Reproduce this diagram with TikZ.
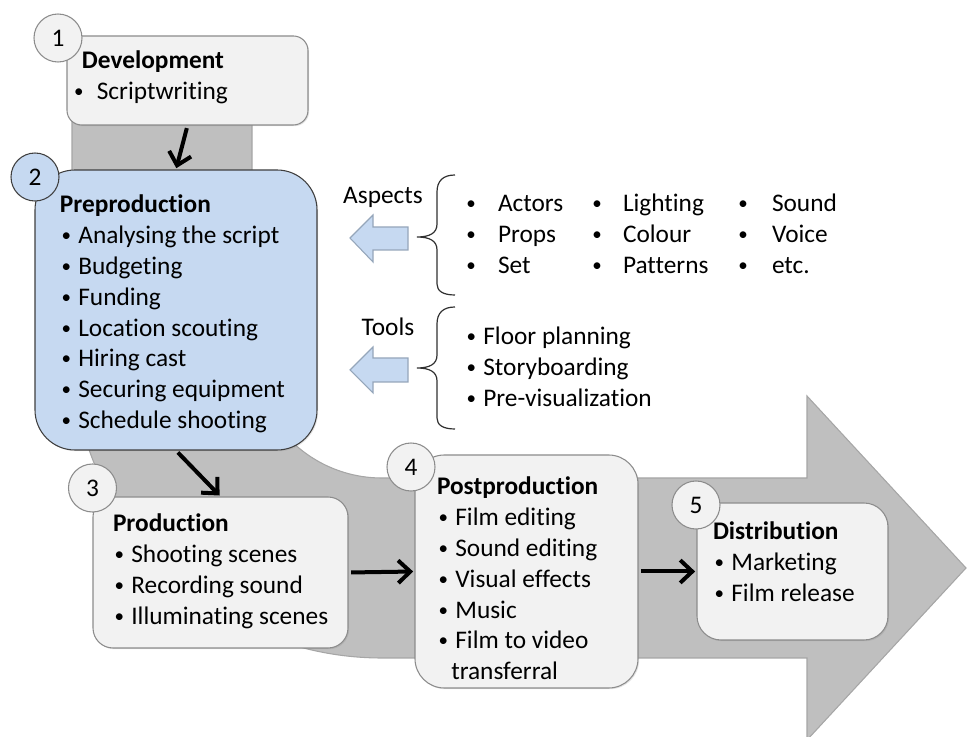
\documentclass[tikz,border=0pt]{standalone}
\usepackage{fontspec}
\setmainfont{Carlito}[Ligatures=NoCommon]
\usetikzlibrary{arrows.meta,fit,shadows}

\definecolor{bandfill}{HTML}{BFBFBF}
\definecolor{bandline}{HTML}{A6A6A6}
\definecolor{boxfill}{HTML}{F2F2F2}
\definecolor{boxline}{HTML}{8C8C8C}
\definecolor{prefill}{HTML}{C6D9F1}
\definecolor{preline}{HTML}{3F3F3F}
\definecolor{hintline}{HTML}{95A6BA}
\definecolor{bracecol}{HTML}{303030}

% a slightly smaller bullet that keeps the width of the font's own bullet
\newcommand\bul{\setbox0\hbox{•}\makebox[\wd0]{\raisebox{0.085em}{\scalebox{0.75}{•}}}}

\begin{document}
\begin{tikzpicture}[x=0.75pt,y=-0.75pt,
  txt/.style={font=\fontsize{19pt}{23.1pt}\selectfont, inner sep=0pt, outer sep=0pt, align=left, anchor=north west},
  panel/.style={draw=boxline, fill=boxfill, line width=0.8pt, inner sep=0pt,
    drop shadow={shadow xshift=0.9pt, shadow yshift=-0.9pt, opacity=0.22}},
  badge/.style={circle, draw=boxline, fill=boxfill, line width=0.8pt, minimum size=36pt,
    inner sep=0pt, font=\fontsize{19pt}{23.1pt}\selectfont},
  flow/.style={line width=3pt, -{Straight Barb[length=9pt,width=17pt]}, shorten <=2pt, shorten >=1pt},
  hint/.style={fill=prefill, draw=hintline, line width=0.8pt, line join=miter},
  brace/.style={draw=bracecol, line width=0.9pt}
]
\useasboundingbox (0,0) rectangle (968,737);

% the grey bent arrow behind the stages
\begin{scope}
  \clip (0,0) rectangle (968,737);
  \draw[fill=bandfill, draw=bandline, line width=0.8pt]
    (72,110) -- (72,348) .. controls (72,519.2) and (210.8,658) .. (382,658)
    -- (807,658) -- (807,740) -- (966,568) -- (807,396) -- (807,478) -- (382,478)
    .. controls (310.2,478) and (252,419.8) .. (252,348) -- (252,110) -- cycle;
\end{scope}

% stage panels
\node[panel, rounded corners=11pt, fit={(67,36) (308,125)}] (dev) {};
\node[panel, rounded corners=30pt, fill=prefill, draw=preline, fit={(35,170) (317,450)}] (pre) {};
\node[panel, rounded corners=15pt, fit={(93,497) (348,648)}] (prod) {};
\node[panel, rounded corners=22pt, fit={(415,455) (638,688)}] (post) {};
\node[panel, rounded corners=18pt, fit={(697,503) (888,640)}] (dist) {};

% stage contents
\node[txt] (devtext) at (72.5,47.4) {\strut\hspace*{7.1pt}\textbf{Development}\\\bul\hspace{8.8pt}Scriptwriting};
\node[txt] (pretext) at (60,191.4) {\strut\textbf{Preproduction}\\\bul\ Analysing the script\\\bul\ Budgeting\\\bul\ Funding\\\bul\ Location scouting\\\bul\ Hiring cast\\\bul\ Securing equipment\\\bul\ Schedule shooting};
\node[txt] (prodtext) at (113,510.4) {\strut\textbf{Production}\\\bul\ Shooting scenes\\\bul\ Recording sound\\\bul\ Illuminating scenes};
\node[txt] (posttext) at (437,473.4) {\strut\textbf{Postproduction}\\\bul\ Film editing\\\bul\ Sound editing\\\bul\ Visual effects\\\bul\ Music\\\bul\ Film to video\\\hspace*{10.7pt}transferral};
\node[txt] (disttext) at (713,518.4) {\strut\textbf{Distribution}\\\bul\ Marketing\\\bul\ Film release};

% numbered badges
\node[badge] (n1) at (58,38) {1};
\node[badge, fill=prefill, draw=preline] (n2) at (35,177) {2};
\node[badge] (n3) at (92.5,488) {3};
\node[badge] (n4) at (411,467) {4};
\node[badge] (n5) at (696,505) {5};

% flow between stages
\draw[flow] (dev.south) -- (pre.north);
\draw[flow] (pre.south) -- (prod.north);
\draw[flow] (prod.east) -- (post.west);
\draw[flow] (post.east) -- (dist.west);

% aspects of preproduction
\node[txt, anchor=base] (aspects) at (383,203.3) {Aspects};
\draw[hint] (350,238) -- (373,215) -- (373,227) -- (408,227) -- (408,250) -- (373,250) -- (373,262) -- cycle;
\draw[brace] (455,175) .. controls (443,175) and (437,181) .. (437,192) -- (437,224)
  .. controls (437,233) and (430,237) .. (417,237) .. controls (430,237) and (437,241) .. (437,250)
  -- (437,284) .. controls (437,291) and (443,295) .. (455,295);
\node[txt, align=center, anchor=north] (aspb1) at (471,190.4) {\strut\bul\\\bul\\\bul};
\node[txt] (aspw1) at (498,190.4) {\strut Actors\\Props\\Set};
\node[txt, align=center, anchor=north] (aspb2) at (597,190.4) {\strut\bul\\\bul\\\bul};
\node[txt] (aspw2) at (623,190.4) {\strut Lighting\\Colour\\Patterns};
\node[txt, align=center, anchor=north] (aspb3) at (743,190.4) {\strut\bul\\\bul\\\bul};
\node[txt] (aspw3) at (772,190.4) {\strut Sound\\Voice\\etc.};

% tools of preproduction
\node[txt, anchor=base] (tools) at (388,336) {Tools};
\draw[hint] (350,370) -- (373,347) -- (373,358) -- (408,358) -- (408,382) -- (373,382) -- (373,393) -- cycle;
\draw[brace] (455,307) .. controls (443,307) and (437,313) .. (437,324) -- (437,355)
  .. controls (437,364) and (430,368) .. (417,368) .. controls (430,368) and (437,372) .. (437,381)
  -- (437,418) .. controls (437,425) and (443,429) .. (455,429);
\node[txt] (tooltext) at (465,323.4) {\strut\bul\ Floor planning\\\bul\ Storyboarding\\\bul\ Pre-visualization};
\end{tikzpicture}
\end{document}
